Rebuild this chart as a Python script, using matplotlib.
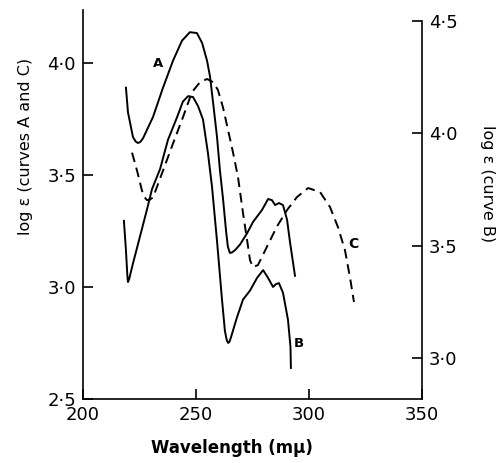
import matplotlib.pyplot as plt
from matplotlib.ticker import FuncFormatter

# curve A (left axis)
wl_a = [219.0, 219.9, 222.1, 223.3, 224.3, 225.4, 226.6, 231.0, 235.4, 239.8, 243.8, 247.3,
        250.4, 252.7, 254.9, 256.2, 257.6, 259.3, 260.6, 262.0, 263.3, 264.1, 265.0,
        266.0, 267.3, 269.5, 272.6, 275.2, 279.2, 281.9, 283.6, 285.0, 286.7, 288.5,
        290.3, 291.6, 293.8]
loge_a = [3.89, 3.78, 3.67, 3.65, 3.643, 3.648, 3.665, 3.76, 3.89, 4.01, 4.10, 4.138,
          4.134, 4.09, 4.01, 3.94, 3.82, 3.67, 3.52, 3.39, 3.25, 3.18, 3.152,
          3.155, 3.165, 3.19, 3.24, 3.29, 3.344, 3.393, 3.388, 3.366, 3.375, 3.366,
          3.30, 3.20, 3.05]

# curve B (right axis)
wl_b = [218.1, 219.0, 219.6, 219.9, 220.4, 222.1, 225.2, 228.3, 230.5, 234.1, 237.6, 241.6,
        244.2, 246.5, 248.7, 250.9, 253.1, 255.3, 257.1, 259.3, 261.5, 262.8,
        263.6, 264.2, 264.8, 265.5, 268.1, 270.8, 273.9, 277.0, 279.7, 281.9, 284.1, 285.4,
        286.7, 288.5, 290.7, 291.8, 292.0]
loge_b = [3.61, 3.48, 3.37, 3.338, 3.35, 3.42, 3.54, 3.66, 3.75, 3.84, 3.97, 4.07,
          4.14, 4.164, 4.16, 4.12, 4.06, 3.91, 3.76, 3.52, 3.26, 3.12,
          3.08, 3.067, 3.072, 3.093, 3.18, 3.26, 3.30, 3.356, 3.391, 3.356, 3.316, 3.329,
          3.333, 3.29, 3.17, 3.05, 2.956]

# curve C (left axis)
wl_c = [221.7, 223.9, 226.1, 227.3, 228.3, 229.5, 231.0, 235.4, 239.8, 244.3, 248.2, 251.8,
        254.9, 257.5, 259.7, 262.0, 264.2, 266.4, 268.6, 270.8, 272.6, 273.9,
        275.2, 277.4, 281.4, 285.8, 290.3, 294.7, 299.6, 304.9, 309.3, 312.8,
        315.9, 318.1, 319.9]
loge_c = [3.60, 3.52, 3.43, 3.40, 3.388, 3.39, 3.40, 3.52, 3.64, 3.76, 3.87, 3.915,
          3.929, 3.915, 3.88, 3.80, 3.70, 3.60, 3.49, 3.33, 3.21, 3.12,
          3.089, 3.098, 3.18, 3.27, 3.344, 3.402, 3.442, 3.424, 3.357, 3.268,
          3.165, 3.045, 2.933]

xticks = [200, 250, 300, 350]
left_ticks = [2.5, 3.0, 3.5, 4.0]
right_ticks = [3.0, 3.5, 4.0, 4.5]

fig = plt.figure(figsize=(4.98, 4.63), dpi=100)
ax = fig.add_axes([83 / 498, 1 - 399 / 463, 339 / 498, 389 / 463])
ax2 = ax.twinx()

ax.plot(wl_a, loge_a, color='black', lw=1.4)
ax.plot(wl_c, loge_c, color='black', lw=1.4, linestyle=(0, (5, 3)))
ax2.plot(wl_b, loge_b, color='black', lw=1.4)

ax.set_xlim(200, 350)
ax.set_ylim(2.5, 4.237)
ax2.set_ylim(2.818, 4.547)

ax.set_xticks(xticks)
ax.set_yticks(left_ticks)
ax2.set_yticks(right_ticks)

dot_fmt = FuncFormatter(lambda v, p: f'{v:.1f}'.replace('.', '\u00b7'))
ax.yaxis.set_major_formatter(dot_fmt)
ax2.yaxis.set_major_formatter(dot_fmt)

for a in (ax, ax2):
    a.spines['top'].set_visible(False)
    for s in a.spines.values():
        s.set_linewidth(1.2)
    a.tick_params(direction='in', length=7, width=1.2, labelsize=13, pad=5)
ax.spines['right'].set_visible(False)
ax2.spines['left'].set_visible(False)
ax2.spines['bottom'].set_visible(False)
ax2.spines['right'].set_bounds(2.818, 4.5)

ax.text(233, 4.0, 'A', fontsize=9.5, fontweight='bold', ha='center', va='center')
ax.text(295.5, 2.75, 'B', fontsize=9.5, fontweight='bold', ha='center', va='center')
ax.text(319.5, 3.19, 'C', fontsize=10, fontweight='bold', ha='center', va='center')

ax.set_xlabel('Wavelength (m\u03bc)', fontsize=12, fontweight='bold', va='center')
ax.xaxis.set_label_coords(0.44, -0.126)
ax.set_ylabel('log \u03b5 (curves A and C)', fontsize=11.5, va='center', ha='center')
ax.yaxis.set_label_coords(-0.171, 0.648)
ax2.set_ylabel('log \u03b5 (curve B)', fontsize=11.5, rotation=270, va='center', ha='center')
ax2.yaxis.set_label_coords(1.192, 0.555)

fig.savefig('out.png', dpi=100)
